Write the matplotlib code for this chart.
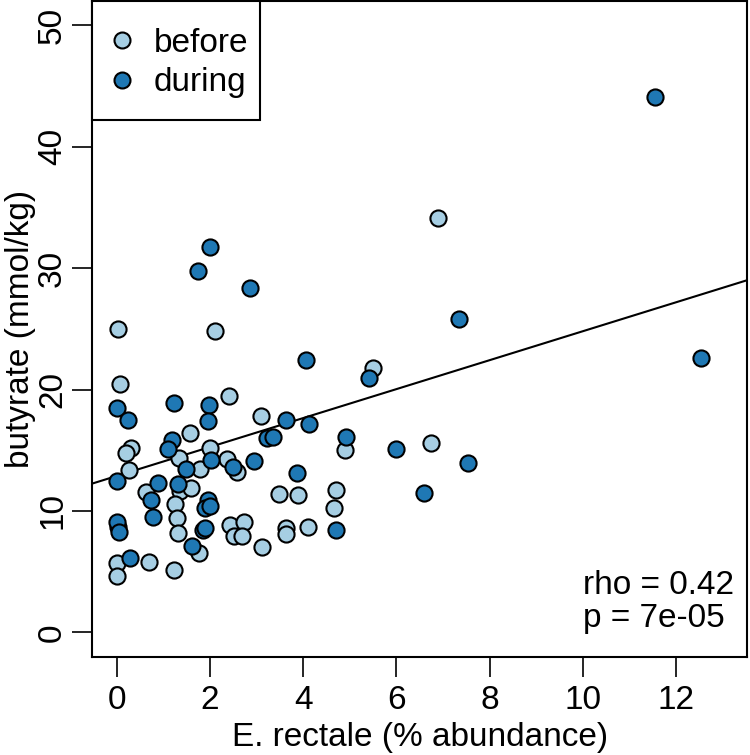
import numpy as np
import matplotlib
matplotlib.use("Agg")
import matplotlib.pyplot as plt
from matplotlib.lines import Line2D
from matplotlib.patches import Rectangle

plt.rcParams['font.family'] = ['Liberation Sans', 'DejaVu Sans']

# E. rectale abundance (%) and butyrate (mmol/kg)
before_x = [0.04, 2.12, 0.07, 2.42, 1.57, 3.10, 0.30, 0.21, 2.01, 1.34, 1.78, 0.26,
            2.37, 2.59, 0.62, 1.36, 1.59, 1.26, 1.30, 1.31, 0.03, 1.76, 0.01, 0.00,
            0.69, 1.23, 2.43, 2.73, 2.52, 2.68, 3.12, 3.48, 3.89, 3.64, 3.64, 4.10,
            4.70, 4.66, 4.89, 6.73, 5.50, 6.88]
before_y = [24.98, 24.79, 20.42, 19.46, 16.43, 17.86, 15.2, 14.78, 15.2, 14.4, 13.44, 13.41,
            14.32, 13.17, 11.57, 11.65, 11.9, 10.55, 9.45, 8.22, 8.68, 6.54, 5.71, 4.64,
            5.80, 5.17, 8.82, 9.09, 7.91, 7.91, 7.03, 11.43, 11.35, 8.63, 8.14, 8.68,
            11.76, 10.28, 15.06, 15.61, 21.79, 34.13]

during_x = [2.00, 1.74, 2.87, 4.05, 0.01, 1.23, 1.98, 0.25, 1.95, 3.64, 4.13, 3.23,
            3.36, 1.19, 1.10, 2.03, 1.49, 0.00, 2.49, 2.94, 3.87, 0.89, 1.32, 0.73,
            0.77, 1.96, 1.89, 2.00, 1.86, 1.89, 0.00, 0.05, 1.61, 0.28, 4.70, 4.92,
            5.98, 7.54, 6.60, 7.34, 5.41, 11.54, 12.52]
during_y = [31.76, 29.79, 28.4, 22.4, 18.52, 18.9, 18.71, 17.53, 17.42, 17.48, 17.15, 16.05,
            16.1, 15.83, 15.14, 14.18, 13.44, 12.47, 13.63, 14.12, 13.13, 12.31, 12.2, 10.88,
            9.51, 10.88, 10.28, 10.39, 8.47, 8.63, 9.09, 8.27, 7.15, 6.16, 8.47, 16.1,
            15.14, 13.99, 11.52, 25.78, 20.96, 44.13, 22.61]

groups = ['before', 'during']
colors = ['#a6cee3', '#1f78b4']
# trend line as drawn in the figure (intercept, slope)
fit_icpt = 12.88
fit_slope = 1.193
rho_text = 'rho = 0.42'
p_text = 'p = 7e-05'

fs = 24

fig = plt.figure(figsize=(7.5, 7.55), dpi=100)
ax = fig.add_axes([0.1231, 0.1302, 0.8733, 0.8685])

ax.scatter(before_x, before_y, s=135, c=colors[0], edgecolors='black', linewidths=1.5, zorder=3)
ax.scatter(during_x, during_y, s=135, c=colors[1], edgecolors='black', linewidths=1.5, zorder=3)

xx = np.array([-1, 14])
ax.plot(xx, fit_icpt + fit_slope * xx, color='black', lw=1.5, zorder=2)

ax.set_xlim(-0.52, 13.52)
ax.set_ylim(-2, 52)
ax.set_xticks([0, 2, 4, 6, 8, 10, 12])
ax.set_yticks([0, 10, 20, 30, 40, 50])
ax.tick_params(direction='out', length=14.5, width=1.2, labelsize=fs)
ax.tick_params(axis='x', pad=6)
ax.tick_params(axis='y', pad=3)
for lab in ax.get_yticklabels():
    lab.set_rotation(90)
    lab.set_va('center')
for sp in ax.spines.values():
    sp.set_linewidth(1.5)

ax.set_xlabel('E. rectale (% abundance)', fontsize=fs, labelpad=4)
ax.set_ylabel('butyrate (mmol/kg)', fontsize=fs, labelpad=1)

# legend box like R's legend(): frame drawn separately
ax.add_patch(Rectangle((0, 0.8185), 0.256, 0.1815, transform=ax.transAxes, fill=True,
                       facecolor='white', edgecolor='black', lw=1.5, zorder=4, clip_on=False))
handles = [Line2D([], [], ls='none', marker='o', markersize=11.5, markerfacecolor=c,
                  markeredgecolor='black', markeredgewidth=1.5) for c in colors]
leg = ax.legend(handles, groups, loc='upper left', fontsize=fs, frameon=False,
                borderaxespad=0, handletextpad=0.85, borderpad=0.8, labelspacing=0.26,
                handlelength=0.2)
leg.set_zorder(5)

ax.text(0.749, 0.108, rho_text, transform=ax.transAxes, fontsize=fs, ha='left', va='center')
ax.text(0.749, 0.058, p_text, transform=ax.transAxes, fontsize=fs, ha='left', va='center')

fig.savefig('out.png', dpi=100)
